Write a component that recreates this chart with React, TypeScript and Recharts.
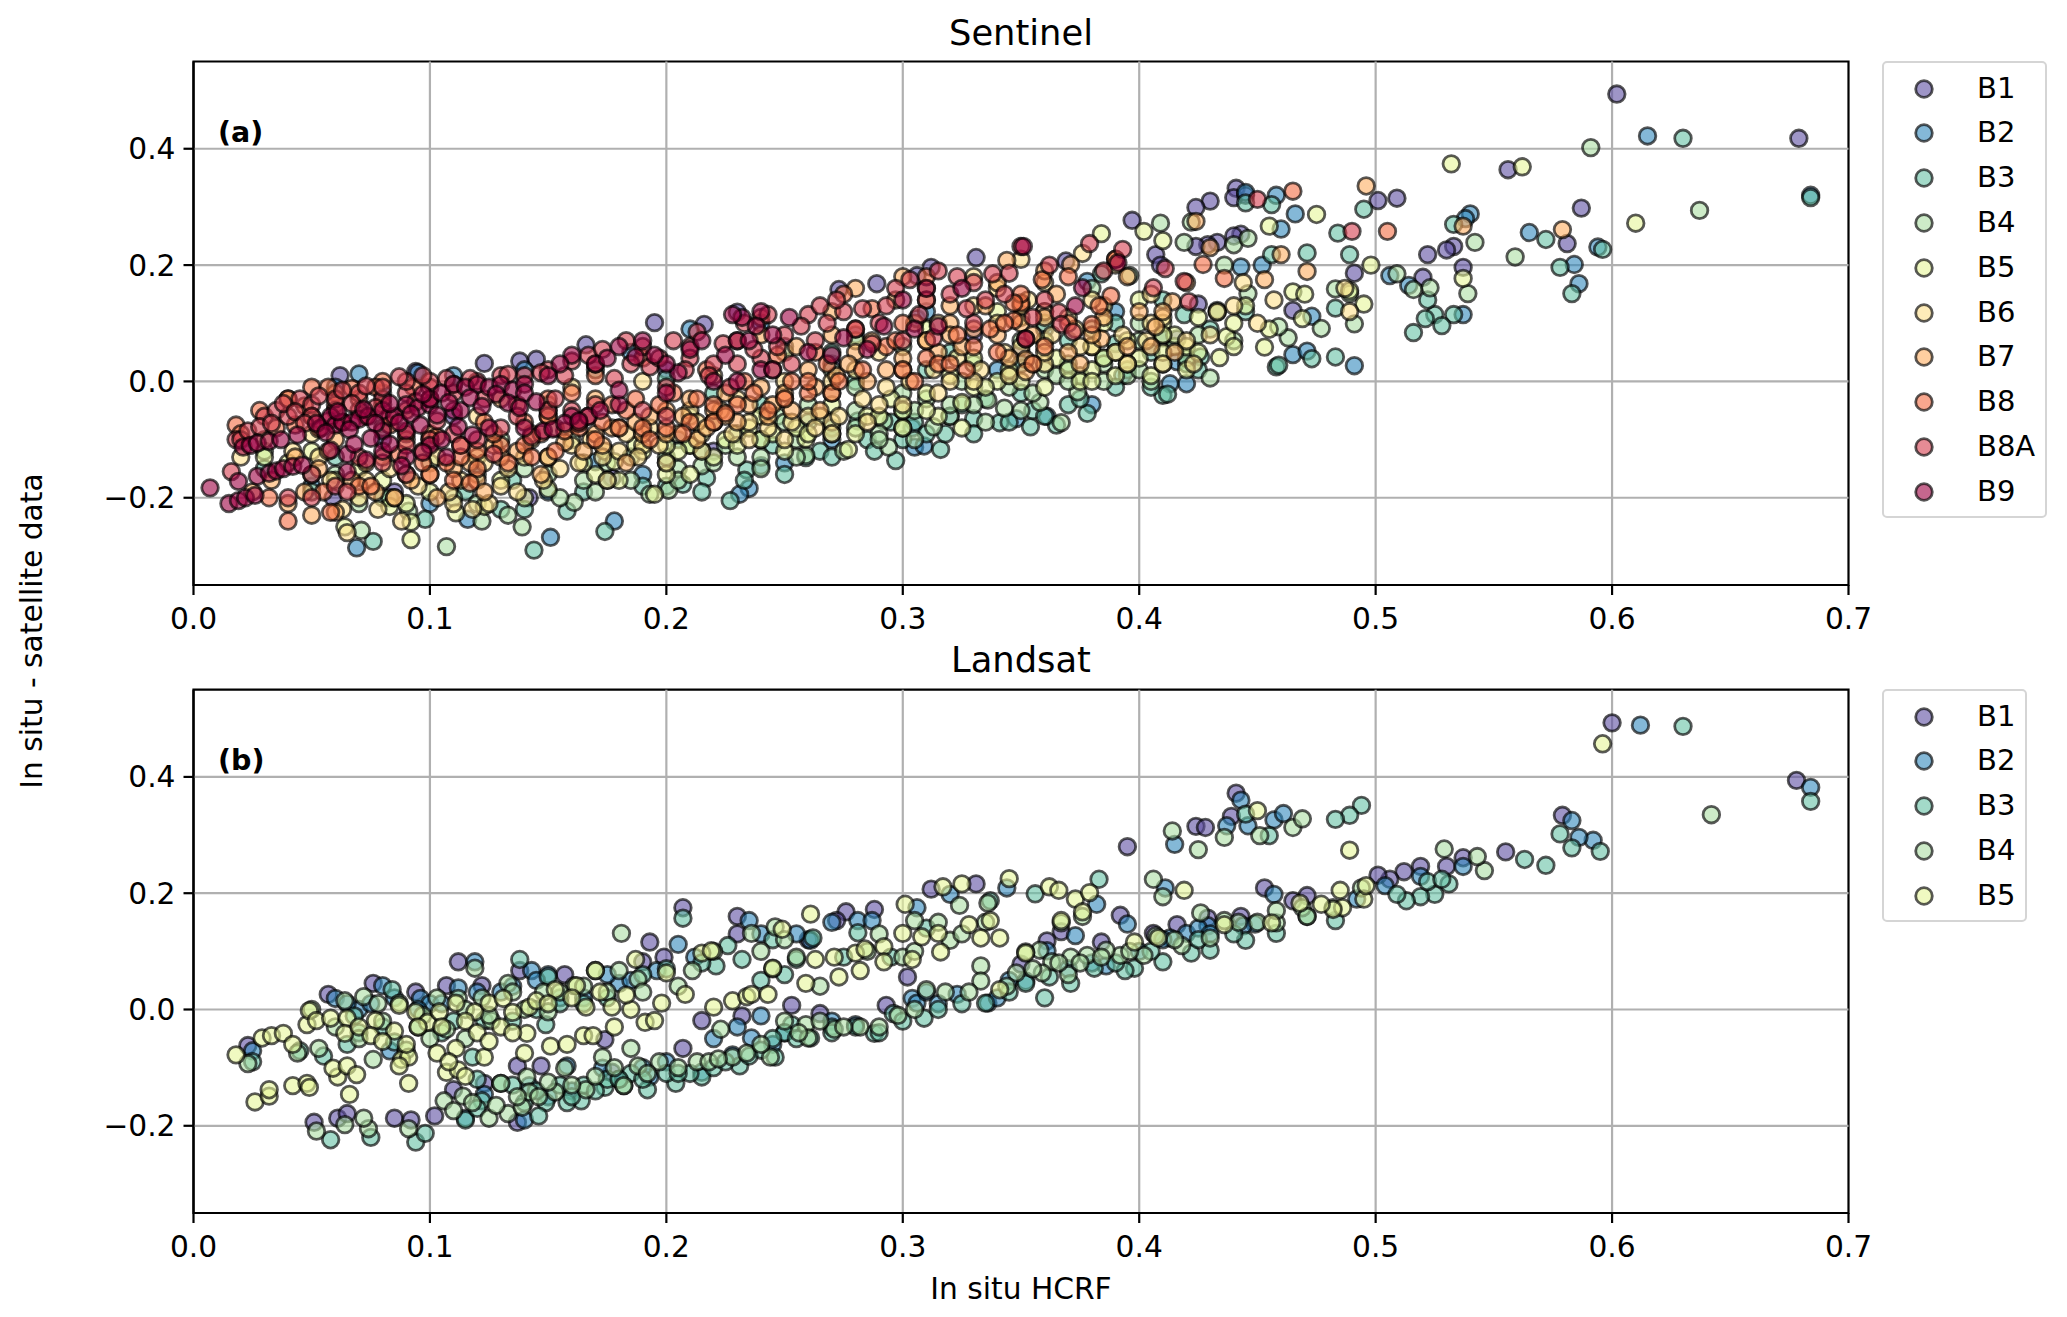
import { ScatterChart, Scatter, XAxis, YAxis, ReferenceLine, ReferenceArea } from "recharts";

type Pt = number[];

const sentinelBands = ["B1", "B2", "B3", "B4", "B5", "B6", "B7", "B8", "B8A", "B9"];
const landsatBands = ["B1", "B2", "B3", "B4", "B5"];
const bandColors = ["#5e4fa2", "#3288bd", "#66c2a5", "#abdda4", "#e6f598", "#fee08b", "#fdae61", "#f46d43", "#d53e4f", "#9e0142"];
const xTicks = [0, 0.1, 0.2, 0.3, 0.4, 0.5, 0.6, 0.7];
const yTicks = [-0.2, 0, 0.2, 0.4];

const sB1: Pt[] = [[.602,.494],[.679,.418],[.556,.364],[.587,.298],[.509,.315],[.501,.311],[.441,.332],[.44,.316],[.445,.32],[.43,.31],[.424,.299],[.397,.277],[.443,.253],[.44,.25],[.433,.239],[.429,.235],[.424,.232],[.407,.218],[.409,.2],[.533,.232],[.53,.226],[.522,.218],[.581,.237],[.537,.196],[.491,.186],[.52,.179],[.465,.122],[.425,.133],[.416,.073],[.41,.075],[.369,.207],[.331,.213],[.289,.168],[.312,.196],[.306,.182],[.273,.158],[.23,.119],[.216,.098],[.195,.101],[.166,.063],[.145,.038],[.138,.035],[.123,.031],[.094,.017],[.062,.01],[.22,-.12],[.177,-.166],[.142,-.2],[.059,-.2],[.085,-.19],[.36,.12],[.35,.05],[.33,.08],[.27,.03],[.25,.06],[.2,.02],[.15,-.05],[.11,-.06],[.08,-.1]];
const sB2: Pt[] = [[.615,.422],[.684,.32],[.565,.256],[.584,.201],[.586,.168],[.594,.231],[.54,.288],[.538,.28],[.458,.32],[.445,.325],[.466,.288],[.46,.262],[.443,.197],[.452,.2],[.506,.182],[.514,.165],[.491,.027],[.473,.112],[.465,.046],[.471,.052],[.537,.115],[.42,-.004],[.413,-.004],[.393,.01],[.38,-.04],[.361,-.06],[.348,-.064],[.416,.034],[.378,.172],[.305,-.113],[.309,-.111],[.304,-.08],[.235,-.184],[.231,-.194],[.24,-.145],[.178,-.24],[.151,-.268],[.069,-.286],[.116,-.237],[.17,-.138],[.306,.108],[.07,.013],[.095,.015],[.06,-.01],[.08,-.02],[.11,.01],[.14,.02],[.185,.05],[.21,.09],[.24,.1],[.28,.08],[.31,.12],[.34,.02],[.32,-.06],[.27,-.1],[.25,-.14],[.205,-.1],[.15,-.19],[.1,-.21],[.05,-.18],[.19,-.16],[.36,.09],[.39,.12]];
const sB3: Pt[] = [[.63,.418],[.684,.316],[.572,.244],[.596,.227],[.578,.196],[.583,.151],[.484,.255],[.495,.296],[.489,.218],[.471,.221],[.456,.218],[.445,.307],[.456,.304],[.533,.27],[.533,.115],[.525,.115],[.528,.096],[.521,.108],[.516,.084],[.522,.14],[.483,.042],[.483,.126],[.458,.025],[.459,.028],[.473,.039],[.426,.042],[.41,-.024],[.412,-.022],[.378,-.055],[.354,-.078],[.365,-.075],[.341,-.071],[.433,.122],[.419,.115],[.41,.08],[.39,.065],[.384,.185],[.316,-.117],[.297,-.136],[.33,-.064],[.259,-.131],[.227,-.205],[.217,-.166],[.207,-.177],[.174,-.258],[.158,-.223],[.144,-.29],[.076,-.275],[.098,-.237],[.234,-.152],[.281,-.068],[.19,-.18],[.13,-.22],[.24,-.1],[.3,-.05],[.35,-.02],[.37,.03],[.32,.05],[.27,.05],[.22,-.02],[.2,.005],[.15,-.04],[.1,-.1],[.06,-.13],[.03,-.15],[.12,-.16],[.11,-.005],[.17,.02],[.05,-.16],[.08,-.2],[.09,-.16],[.115,-.19],[.135,-.17],[.14,-.22],[.165,-.19],[.175,-.17],[.2,-.18],[.215,-.12],[.245,-.11],[.265,-.12],[.27,-.08],[.285,-.1],[.295,-.07],[.305,-.07],[.31,-.09],[.325,-.04],[.335,-.03],[.345,.01],[.355,-.05],[.37,-.04],[.385,.04],[.395,.02],[.405,.05],[.425,.02],[.2,-.14],[.215,-.19],[.233,-.17],[.25,-.16],[.27,-.13],[.288,-.12],[.3,-.1],[.318,-.09],[.33,-.09],[.345,-.07],[.36,-.06],[.375,-.03],[.39,-.01],[.405,-.01],[.42,.03],[.35,.03],[.37,.07],[.39,.1],[.41,.14],[.43,.09],[.445,.12],[.26,-.07],[.24,-.04],[.28,.0],[.31,.02]];
const sB4: Pt[] = [[.591,.402],[.637,.294],[.559,.214],[.542,.239],[.539,.151],[.523,.161],[.516,.158],[.509,.185],[.491,.099],[.489,.151],[.483,.159],[.477,.091],[.463,.075],[.446,.151],[.459,.094],[.43,.006],[.409,.272],[.422,.274],[.419,.239],[.44,.235],[.446,.246],[.433,.119],[.374,-.018],[.358,-.036],[.367,-.071],[.343,-.046],[.396,.182],[.38,.16],[.436,.2],[.107,-.284],[.071,-.256],[.139,-.25],[.133,-.23],[.193,-.194],[.201,-.187],[.185,-.17],[.215,-.145],[.259,-.127],[.247,-.06],[.294,-.113],[.292,-.068],[.313,-.078],[.336,-.032],[.161,-.208],[.091,-.223],[.122,-.24],[.06,-.16],[.03,-.12],[.1,-.14],[.13,-.1],[.16,-.1],[.18,-.08],[.22,-.07],[.26,-.04],[.28,-.01],[.31,-.03],[.33,.03],[.36,.02],[.39,.05],[.41,.03],[.4,.1],[.3,.06],[.27,.02],[.24,-.13],[.17,-.19],[.2,-.13],[.08,-.08],[.14,-.15],[.05,-.19],[.07,-.21],[.083,-.2],[.11,-.2],[.12,-.21],[.15,-.16],[.155,-.2],[.165,-.17],[.175,-.14],[.185,-.13],[.205,-.15],[.21,-.11],[.225,-.11],[.23,-.13],[.255,-.1],[.27,-.09],[.28,-.08],[.29,-.09],[.3,-.08],[.305,-.05],[.32,-.06],[.325,.0],[.345,-.01],[.355,-.02],[.365,.01],[.375,.01],[.385,.03],[.395,.01],[.405,.0],[.415,.06],[.425,.08],[.205,-.17],[.22,-.14],[.24,-.15],[.255,-.13],[.275,-.12],[.29,-.1],[.305,-.1],[.32,-.04],[.335,-.07],[.35,-.05],[.37,.0],[.385,.0],[.4,.02],[.42,.04],[.44,.07],[.38,.09],[.4,.07],[.35,.07],[.36,.1],[.28,-.05],[.25,-.07],[.23,-.09],[.21,-.06],[.33,-.04],[.3,-.02]];
const sB5: Pt[] = [[.532,.374],[.562,.369],[.61,.272],[.475,.287],[.455,.267],[.402,.258],[.384,.254],[.41,.242],[.498,.2],[.537,.177],[.495,.133],[.489,.156],[.465,.154],[.453,.059],[.469,.108],[.437,.077],[.434,.041],[.277,-.117],[.325,-.036],[.259,-.099],[.195,-.194],[.092,-.272],[.092,-.242],[.064,-.25],[.083,-.215],[.111,-.226],[.123,-.215],[.174,-.12],[.178,-.138],[.15,-.185],[.187,-.11],[.22,-.07],[.24,-.06],[.27,-.04],[.3,-.05],[.33,-.01],[.34,.0],[.36,-.01],[.38,.02],[.4,.04],[.42,.06],[.44,.1],[.41,.1],[.34,.12],[.31,.09],[.28,.07],[.25,.05],[.21,-.11],[.17,-.16],[.13,-.17],[.1,-.19],[.07,-.15],[.05,-.12],[.03,-.13],[.15,-.13],[.19,-.12],[.39,.01],[.38,.06],[.42,.02],[.04,-.14],[.06,-.17],[.08,-.17],[.09,-.21],[.12,-.13],[.14,-.2],[.165,-.14],[.18,-.17],[.2,-.16],[.205,-.12],[.215,-.09],[.225,-.1],[.235,-.08],[.245,-.09],[.255,-.08],[.265,-.06],[.285,-.06],[.295,-.03],[.31,-.02],[.315,-.06],[.32,.01],[.345,.02],[.355,.03],[.365,.04],[.375,.0],[.385,.04],[.395,.07],[.405,.01],[.415,.08],[.425,.11],[.445,.13],[.455,.09],[.47,.15],[.41,.05],[.21,-.16],[.23,-.11],[.25,-.12],[.26,-.09],[.28,-.09],[.3,-.08],[.31,-.05],[.325,-.08],[.335,-.01],[.35,.0],[.37,.02],[.38,.0],[.395,.03],[.41,.08],[.425,.05],[.44,.06],[.36,.07],[.385,.1],[.4,.14],[.35,.11],[.33,.04],[.29,-.06],[.27,-.02],[.24,-.1],[.22,-.13],[.2,-.11]];
const sB6: Pt[] = [[.487,.16],[.489,.12],[.457,.14],[.444,.17],[.45,.1],[.43,.08],[.41,.11],[.405,.15],[.39,.2],[.376,.22],[.35,.21],[.33,.18],[.31,.14],[.3,.02],[.34,.1],[.36,.03],[.38,.06],[.395,.03],[.41,.03],[.32,.0],[.29,-.04],[.27,-.07],[.25,-.03],[.26,-.06],[.235,-.07],[.21,-.05],[.2,-.14],[.19,-.11],[.18,-.12],[.175,-.17],[.16,-.11],[.155,-.15],[.14,-.13],[.13,-.18],[.125,-.21],[.11,-.21],[.085,-.2],[.095,-.18],[.1,-.16],[.065,-.26],[.07,-.2],[.05,-.09],[.03,-.1],[.02,-.13],[.09,-.1],[.12,-.06],[.16,-.01],[.19,.0],[.22,.01],[.245,.02],[.28,.02],[.31,.07],[.35,.06],[.37,.11],[.34,.16],[.385,.13],[.36,.17],[.042,-.12],[.053,-.13],[.058,-.17],[.063,-.22],[.073,-.17],[.078,-.22],[.083,-.15],[.088,-.24],[.103,-.13],[.108,-.19],[.113,-.17],[.118,-.22],[.123,-.14],[.133,-.15],[.137,-.19],[.143,-.1],[.148,-.17],[.153,-.08],[.163,-.14],[.168,-.1],[.173,-.13],[.183,-.09],[.188,-.13],[.193,-.08],[.197,-.11],[.205,-.09],[.213,-.07],[.223,-.05],[.228,-.09],[.243,-.08],[.253,-.07],[.263,-.08],[.273,-.06],[.283,-.03],[.293,-.01],[.303,.0],[.313,.02],[.323,.04],[.333,.02],[.343,.05],[.353,.14],[.363,.08],[.373,.09],[.393,.08],[.403,.07],[.423,.03],[.433,.12],[.215,-.12],[.235,-.1],[.25,-.1],[.27,-.09],[.285,-.07],[.3,-.04],[.315,-.02],[.33,.0],[.345,.01],[.36,.05],[.375,.06],[.39,.05],[.405,.1],[.42,.07],[.44,.13],[.38,.14],[.36,.12],[.33,.13],[.315,.1],[.29,.05],[.27,.0],[.25,.0],[.23,-.03]];
const sB7: Pt[] = [[.496,.336],[.424,.275],[.46,.218],[.471,.189],[.453,.175],[.537,.267],[.579,.261],[.414,.137],[.371,.201],[.407,.094],[.384,.073],[.352,.038],[.352,.017],[.39,.21],[.36,.19],[.344,.208],[.32,.1],[.04,-.21],[.05,-.23],[.06,-.225],[.085,-.2],[.025,-.19],[.11,-.15],[.12,-.17],[.13,-.13],[.15,-.13],[.165,-.12],[.15,-.06],[.17,-.03],[.19,-.09],[.2,-.09],[.2,-.05],[.21,-.03],[.22,-.05],[.23,-.07],[.24,-.01],[.25,-.02],[.26,.02],[.28,.05],[.28,.16],[.3,.18],[.31,.16],[.32,.13],[.33,.09],[.34,.17],[.35,.1],[.37,.05],[.395,.06],[.41,.12],[.42,.17],[.06,-.1],[.08,-.13],[.1,-.09],[.04,-.03],[.13,-.03],[.17,-.09],[.27,.12],[.24,.08],[.033,-.17],[.043,-.13],[.047,-.19],[.053,-.15],[.057,-.12],[.067,-.17],[.073,-.14],[.077,-.19],[.092,-.17],[.097,-.12],[.103,-.2],[.113,-.11],[.117,-.14],[.123,-.19],[.127,-.11],[.137,-.12],[.143,-.09],[.147,-.16],[.157,-.105],[.163,-.07],[.173,-.11],[.177,-.08],[.183,-.14],[.187,-.07],[.193,-.06],[.207,-.06],[.213,-.1],[.217,-.08],[.225,-.02],[.235,-.04],[.243,-.06],[.253,-.05],[.263,-.01],[.272,.01],[.277,.03],[.287,.07],[.293,.02],[.297,.14],[.305,.1],[.315,.05],[.325,.06],[.335,.13],[.345,.04],[.355,.08],[.365,.15],[.375,.03],[.385,.11],[.395,.18],[.405,.06],[.415,.05],[.43,.23],[.225,-.06],[.245,-.04],[.265,-.05],[.285,.0],[.3,.04],[.32,.08],[.34,.08],[.36,.11],[.38,.08],[.4,.12],[.35,.13],[.31,.07],[.27,.08],[.255,.06]];
const sB8: Pt[] = [[.465,.327],[.505,.258],[.427,.201],[.436,.177],[.388,.147],[.383,.13],[.38,.098],[.352,.073],[.35,.135],[.347,.105],[.359,.175],[.018,-.075],[.02,-.09],[.032,-.2],[.04,-.24],[.058,-.225],[.07,-.18],[.075,-.18],[.04,-.03],[.05,-.01],[.05,-.06],[.06,-.02],[.06,-.04],[.07,-.03],[.08,-.04],[.09,-.05],[.09,-.09],[.1,-.03],[.1,-.16],[.11,-.17],[.12,-.15],[.12,-.12],[.13,-.11],[.14,-.11],[.14,-.07],[.15,-.06],[.15,-.03],[.16,-.02],[.17,-.1],[.18,-.08],[.19,-.08],[.2,-.08],[.21,-.07],[.22,-.07],[.22,-.04],[.23,-.04],[.25,-.03],[.26,-.02],[.27,-.02],[.26,.0],[.3,.02],[.28,.09],[.3,.1],[.31,.04],[.315,.03],[.32,.03],[.33,.06],[.34,.05],[.36,.06],[.37,.1],[.35,.15],[.37,.18],[.39,.21],[.31,.18],[.275,.15],[.24,.11],[.23,.07],[.19,.04],[.17,.01],[.08,.0],[.055,-.19],[.028,-.05],[.035,-.08],[.043,-.075],[.047,-.042],[.053,-.082],[.057,-.01],[.063,-.07],[.067,-.012],[.073,-.06],[.077,-.01],[.083,-.075],[.087,-.125],[.093,-.01],[.097,-.14],[.103,-.095],[.107,-.14],[.113,-.13],[.117,-.175],[.123,-.07],[.127,-.09],[.133,-.14],[.137,-.04],[.143,-.13],[.147,-.09],[.153,-.12],[.157,-.085],[.163,-.08],[.167,-.06],[.173,-.07],[.177,-.04],[.183,-.05],[.187,-.03],[.193,-.1],[.197,-.04],[.203,-.02],[.207,-.09],[.213,-.03],[.217,.02],[.225,-.055],[.233,.0],[.237,-.02],[.243,-.05],[.247,.045],[.253,.0],[.263,.05],[.268,.03],[.273,.0],[.283,.02],[.287,.125],[.293,.06],[.297,.07],[.305,.0],[.323,.08],[.327,.02],[.337,.09],[.343,.1],[.355,.03],[.347,.135]];
const sB8A: Pt[] = [[.016,-.155],[.018,-.1],[.02,-.1],[.03,-.06],[.035,-.05],[.04,-.06],[.045,-.03],[.05,-.04],[.05,-.06],[.06,-.05],[.06,-.03],[.07,-.05],[.07,-.02],[.08,-.03],[.08,-.01],[.09,-.02],[.09,.0],[.1,-.01],[.1,.0],[.11,-.02],[.12,.0],[.13,.01],[.14,.01],[.15,.02],[.16,.035],[.17,.03],[.19,.06],[.185,.03],[.21,.06],[.21,.04],[.22,.03],[.23,.03],[.24,.04],[.25,.08],[.26,.115],[.265,.13],[.275,.12],[.28,.09],[.29,.1],[.3,.07],[.31,.14],[.315,.19],[.32,.15],[.33,.17],[.335,.14],[.33,.1],[.35,.232],[.36,.14],[.04,-.2],[.05,-.16],[.05,-.2],[.06,-.18],[.065,-.19],[.07,-.13],[.08,-.14],[.09,-.11],[.09,-.16],[.1,-.1],[.11,-.09],[.12,-.1],[.13,-.08],[.15,-.05],[.16,-.05],[.17,-.04],[.19,-.05],[.2,-.06],[.2,-.01],[.45,.313],[.49,.258],[.379,.237],[.393,.227],[.411,.194],[.406,.161],[.421,.137],[.419,.172],[.366,.119],[.367,.098],[.345,.186],[.023,-.085],[.028,-.078],[.033,-.072],[.038,-.038],[.043,-.052],[.047,-.072],[.053,-.025],[.057,-.068],[.063,-.015],[.067,-.038],[.073,-.008],[.077,-.045],[.083,-.062],[.087,.008],[.094,-.035],[.097,.01],[.103,-.068],[.107,.005],[.113,-.11],[.117,.005],[.123,-.03],[.127,-.125],[.133,.012],[.137,-.06],[.143,-.095],[.147,.015],[.153,-.03],[.157,.01],[.163,-.072],[.167,.045],[.173,.055],[.178,.005],[.183,.07],[.193,.025],[.197,.04],[.203,.07],[.208,.02],[.213,.085],[.218,.01],[.224,.065],[.227,-.01],[.233,.1],[.237,.055],[.243,.115],[.247,.06],[.253,.03],[.257,.095],[.263,.07],[.268,.1],[.272,.14],[.283,.125],[.287,.065],[.293,.13],[.297,.16],[.303,.175],[.307,.115],[.313,.075],[.323,.18],[.327,.125],[.338,.185],[.343,.15],[.355,.11],[.362,.2],[.385,.19],[.372,.085]];
const sB9: Pt[] = [[.007,-.183],[.015,-.21],[.019,-.205],[.022,-.2],[.026,-.196],[.019,-.172],[.021,-.113],[.024,-.11],[.027,-.106],[.032,-.103],[.037,-.1],[.044,-.092],[.027,-.163],[.032,-.158],[.035,-.154],[.038,-.15],[.042,-.146],[.046,-.144],[.054,-.08],[.058,-.06],[.06,-.075],[.063,-.07],[.067,-.07],[.07,-.065],[.074,-.06],[.08,-.085],[.08,-.05],[.085,-.06],[.09,-.04],[.09,-.085],[.095,-.045],[.1,-.04],[.1,-.03],[.105,-.02],[.11,-.005],[.11,-.05],[.115,-.01],[.12,-.005],[.125,-.01],[.13,-.005],[.135,-.015],[.14,-.005],[.14,-.02],[.145,-.035],[.065,-.125],[.065,-.155],[.08,-.12],[.09,-.13],[.1,-.11],[.105,-.1],[.113,-.05],[.125,-.08],[.14,-.08],[.148,-.085],[.16,-.06],[.167,-.06],[.172,-.05],[.18,-.04],[.18,-.015],[.2,-.02],[.205,.015],[.2,.03],[.18,.06],[.19,.07],[.16,.045],[.17,.03],[.22,.0],[.23,.0],[.24,.02],[.245,.02],[.23,.07],[.235,.07],[.24,.12],[.232,.11],[.245,.08],[.26,.05],[.27,.045],[.285,.055],[.305,.09],[.315,.095],[.31,.16],[.3,.14],[.391,.204],[.351,.232],[.376,.161],[.373,.13],[.352,.073],[.052,-.072],[.056,-.088],[.061,-.052],[.066,-.083],[.072,-.048],[.077,-.072],[.083,-.038],[.087,-.071],[.092,-.056],[.097,-.022],[.103,-.058],[.108,-.036],[.117,-.028],[.122,-.043],[.128,-.022],[.133,-.037],[.138,-.045],[.152,-.082],[.157,-.072],[.163,-.068],[.075,-.098],[.083,-.108],[.088,-.145],[.097,-.122],[.073,-.135],[.068,-.108],[.058,-.118],[.112,-.078],[.118,-.092],[.107,-.13],[.096,-.075],[.21,.055],[.215,.07],[.225,.045],[.195,.045],[.187,.042],[.175,.04],[.15,.01],[.155,.03],[.238,.095],[.228,.115],[.252,.11],[.275,.075],[.292,.095],[.325,.16]];

const lB1: Pt[] = [[.6,.493],[.678,.394],[.555,.271],[.579,.334],[.537,.261],[.53,.246],[.512,.237],[.519,.246],[.506,.224],[.501,.231],[.441,.372],[.439,.332],[.424,.315],[.428,.313],[.395,.28],[.392,.162],[.367,.134],[.361,.118],[.453,.209],[.471,.196],[.465,.187],[.443,.16],[.429,.157],[.416,.146],[.406,.131],[.384,.116],[.35,.078],[.331,.216],[.312,.207],[.288,.172],[.276,.168],[.272,.153],[.23,.16],[.207,.175],[.193,.116],[.19,.082],[.112,.082],[.138,.067],[.157,.06],[.076,.045],[.057,.026],[.094,.03],[.107,.041],[.122,.041],[.199,.09],[.302,.056],[.293,.007],[.215,-.019],[.207,-.067],[.232,-.011],[.253,.007],[.265,-.007],[.023,-.062],[.051,-.194],[.061,-.187],[.065,-.179],[.085,-.187],[.092,-.19],[.102,-.183],[.11,-.138],[.123,-.127],[.137,-.097],[.137,-.194],[.147,-.097],[.174,-.052],[.177,-.108],[.26,.12],[.23,.13]];
const lB2: Pt[] = [[.612,.489],[.684,.382],[.592,.291],[.583,.325],[.586,.296],[.415,.284],[.446,.316],[.443,.36],[.457,.326],[.461,.337],[.437,.316],[.411,.209],[.382,.181],[.395,.147],[.373,.127],[.457,.198],[.449,.147],[.444,.144],[.429,.144],[.42,.131],[.413,.123],[.504,.213],[.537,.246],[.519,.229],[.492,.19],[.344,.209],[.361,.101],[.352,.049],[.386,.075],[.235,.153],[.281,.153],[.287,.153],[.261,.119],[.205,.112],[.212,.09],[.306,.175],[.32,.198],[.304,.019],[.306,.011],[.336,.011],[.323,.026],[.196,.067],[.18,.045],[.15,.06],[.143,.067],[.119,.082],[.112,.037],[.08,.041],[.06,.019],[.096,.019],[.025,-.071],[.083,-.071],[.245,-.06],[.236,-.049],[.24,-.011],[.215,-.108],[.193,-.116],[.158,-.097],[.115,-.187],[.142,-.131],[.123,-.146],[.173,-.101],[.228,-.078],[.28,-.026],[.1,.01],[.13,.03],[.165,.02],[.07,.0],[.065,.01],[.075,.01],[.085,.02],[.095,.0],[.105,.01],[.12,.03],[.135,.04],[.145,.05],[.155,.02],[.175,.06],[.185,.05],[.14,-.19],[.15,-.15],[.16,-.14],[.18,-.12],[.19,-.1],[.2,-.09],[.22,-.05],[.23,-.03],[.25,-.04],[.27,-.02],[.31,.03],[.315,.01],[.34,.02],[.345,.05],[.37,.07],[.38,.08],[.4,.1],[.41,.12],[.425,.14],[.43,.13],[.24,.13],[.27,.15],[.255,.13]];
const lB3: Pt[] = [[.63,.487],[.684,.358],[.595,.272],[.572,.248],[.563,.258],[.578,.302],[.583,.278],[.494,.351],[.489,.334],[.483,.327],[.455,.299],[.445,.336],[.383,.224],[.356,.199],[.531,.216],[.525,.198],[.519,.194],[.513,.187],[.509,.198],[.522,.22],[.528,.224],[.483,.153],[.458,.131],[.445,.119],[.43,.102],[.422,.097],[.41,.082],[.398,.071],[.394,.067],[.381,.071],[.371,.045],[.352,.045],[.362,.056],[.471,.16],[.207,.157],[.281,.132],[.262,.123],[.255,.086],[.226,.11],[.221,.075],[.232,.086],[.138,.086],[.15,.056],[.084,.034],[.337,.187],[.309,-.015],[.296,-.007],[.335,.011],[.288,-.041],[.253,-.026],[.261,-.049],[.246,-.082],[.231,-.097],[.215,-.116],[.204,-.127],[.192,-.138],[.182,-.131],[.174,-.134],[.164,-.157],[.158,-.16],[.149,-.16],[.146,-.183],[.115,-.19],[.094,-.228],[.098,-.213],[.058,-.224],[.075,-.22],[.13,-.127],[.122,-.157],[.118,-.082],[.149,-.026],[.085,-.056],[.045,-.071],[.025,-.09],[.068,-.011],[.123,-.019],[.055,-.08],[.065,-.06],[.07,-.04],[.08,-.03],[.095,-.03],[.105,-.04],[.11,-.02],[.135,-.02],[.145,.0],[.155,.01],[.165,.01],[.175,.02],[.19,.06],[.2,.07],[.215,.08],[.24,.05],[.245,.12],[.25,.06],[.275,.09],[.295,.09],[.31,.14],[.12,-.17],[.135,-.13],[.14,-.16],[.155,-.13],[.165,-.13],[.175,-.12],[.185,-.11],[.2,-.11],[.21,-.11],[.22,-.1],[.24,-.07],[.25,-.04],[.27,-.03],[.28,-.03],[.3,-.02],[.315,.0],[.325,.01],[.345,.03],[.36,.02],[.39,.08],[.405,.1],[.425,.12],[.44,.13],[.12,-.12],[.145,-.14],[.16,-.15],[.17,-.14],[.18,-.12],[.19,-.12],[.205,-.11],[.225,-.09],[.235,-.08],[.245,-.05],[.255,-.05],[.27,-.04],[.29,-.04]];
const lB4: Pt[] = [[.642,.335],[.546,.239],[.543,.263],[.529,.276],[.414,.307],[.425,.275],[.436,.296],[.451,.299],[.465,.313],[.469,.328],[.376,.16],[.367,.149],[.41,.194],[.406,.224],[.458,.149],[.469,.175],[.471,.16],[.494,.209],[.418,.11],[.43,.123],[.426,.166],[.436,.153],[.407,.127],[.402,.093],[.392,.093],[.386,.102],[.378,.093],[.371,.09],[.358,.102],[.363,.082],[.352,.099],[.348,.063],[.359,.063],[.37,.06],[.482,.175],[.181,.131],[.246,.142],[.236,.131],[.119,.071],[.32,.119],[.305,.153],[.324,.179],[.336,.183],[.333,.075],[.333,.049],[.31,.034],[.259,-.026],[.26,-.049],[.271,-.034],[.282,-.03],[.244,-.082],[.228,-.082],[.223,-.034],[.213,-.09],[.197,-.09],[.188,-.097],[.185,-.067],[.173,-.082],[.157,-.101],[.141,-.116],[.142,-.142],[.153,-.142],[.166,-.138],[.182,-.131],[.114,-.149],[.106,-.157],[.11,-.174],[.125,-.187],[.133,-.179],[.139,-.168],[.13,-.127],[.074,-.205],[.072,-.187],[.052,-.209],[.064,-.198],[.091,-.205],[.076,-.086],[.053,-.067],[.044,-.075],[.023,-.093],[.064,.015],[.072,.022],[.087,.011],[.112,.019],[.133,.045],[.161,.041],[.155,.03],[.17,.067],[.18,.067],[.188,.052],[.211,.067],[.107,-.034],[.126,-.019],[.15,-.004],[.118,-.16],[.128,-.165],[.137,-.15],[.146,-.15],[.15,-.125],[.16,-.13],[.17,-.115],[.178,-.1],[.192,-.11],[.205,-.1],[.218,-.09],[.222,-.085],[.234,-.075],[.24,-.06],[.25,-.02],[.256,-.04],[.265,-.02],[.275,-.03],[.29,-.03],[.298,-.01],[.305,.0],[.318,.03],[.328,.03],[.344,.04],[.355,.07],[.366,.08],[.375,.08],[.384,.09],[.396,.1],[.415,.12],[.442,.15],[.45,.15],[.458,.17],[.078,.01],[.08,-.02],[.097,-.01],[.103,.02],[.115,.0],[.122,.02],[.135,.03],[.148,.03],[.05,.0],[.06,-.03],[.07,-.05],[.09,-.07],[.1,-.05],[.115,-.05],[.125,-.01],[.14,.0],[.165,.04],[.175,.03],[.19,.03],[.205,.04],[.22,.1],[.24,.1],[.25,.12],[.285,.1],[.3,.09],[.315,.15],[.325,.13],[.245,.07],[.255,.09],[.265,.04],[.29,.13],[.305,.1],[.335,.15]];
const lB5: Pt[] = [[.596,.457],[.489,.274],[.45,.342],[.345,.225],[.362,.211],[.366,.205],[.373,.19],[.379,.201],[.419,.205],[.376,.168],[.367,.153],[.341,.123],[.495,.19],[.496,.213],[.486,.175],[.482,.172],[.477,.181],[.485,.205],[.456,.149],[.468,.183],[.436,.146],[.408,.123],[.398,.116],[.341,.034],[.352,.097],[.018,-.078],[.026,-.159],[.032,-.149],[.032,-.138],[.042,-.131],[.048,-.127],[.049,-.134],[.066,-.146],[.091,-.127],[.061,-.116],[.059,-.101],[.065,-.097],[.069,-.112],[.088,-.086],[.091,-.082],[.087,-.097],[.107,-.108],[.112,-.104],[.123,-.082],[.111,-.067],[.103,-.075],[.029,-.049],[.033,-.045],[.038,-.041],[.042,-.06],[.048,-.026],[.049,-.002],[.052,-.019],[.058,-.015],[.065,-.015],[.064,-.041],[.077,-.019],[.085,-.037],[.087,.007],[.094,-.004],[.099,-.022],[.104,-.004],[.111,.011],[.119,-.004],[.125,.011],[.131,.019],[.13,-.03],[.142,.004],[.141,-.041],[.14,-.075],[.153,.034],[.162,.041],[.151,-.063],[.158,-.06],[.165,-.045],[.169,-.045],[.166,.004],[.17,.067],[.178,-.03],[.177,.004],[.185,.0],[.187,.086],[.191,-.022],[.195,-.019],[.198,.011],[.2,.063],[.208,.026],[.215,.097],[.219,.101],[.22,.004],[.228,.015],[.234,.022],[.236,.026],[.245,.071],[.243,.026],[.249,.138],[.259,.045],[.261,.164],[.263,.086],[.271,.09],[.273,.056],[.28,.097],[.282,.067],[.284,.104],[.292,.108],[.292,.082],[.3,.131],[.301,.181],[.304,.086],[.308,.125],[.315,.131],[.316,.099],[.317,.211],[.325,.216],[.328,.146],[.333,.123],[.337,.153],[.07,-.03],[.075,-.045],[.08,-.055],[.09,-.06],[.095,-.03],[.105,-.03],[.115,-.02],[.12,-.04],[.135,-.005],[.145,.015],[.15,.01],[.16,.02],[.172,.03],[.183,.025],[.125,-.055],[.115,-.115],[.108,-.09],[.135,-.04]];

const sentinelSeries = [sB1, sB2, sB3, sB4, sB5, sB6, sB7, sB8, sB8A, sB9];
const landsatSeries = [lB1, lB2, lB3, lB4, lB5];

const FONT = "'DejaVu Sans', sans-serif";
const fmtY = (v: number) => (v < 0 ? "\u2212" : "") + Math.abs(v).toFixed(1);
const tickStyle = { fontSize: 29.7, fontFamily: FONT, fill: "#000" };
const axisLine = { stroke: "#000", strokeWidth: 2.2 };

const Dot = (p: any) => (
  <circle cx={p.cx} cy={p.cy} r={8.3} fill={p.fill} fillOpacity={0.6} stroke="#000" strokeOpacity={0.65} strokeWidth={2.8} />
);

function Panel({ series, top, height, plotTop, plotBottom }: { series: Pt[][]; top: number; height: number; plotTop: number; plotBottom: number }) {
  return (
    <div style={{ position: "absolute", left: 0, top }}>
      <ScatterChart width={2067} height={height} margin={{ left: 93.5, right: 218.5, top: plotTop, bottom: plotBottom - 60 }}>
        <XAxis type="number" dataKey="x" domain={[0, 0.7]} ticks={xTicks} interval={0} height={60} tickFormatter={(v: number) => v.toFixed(1)} tick={tickStyle} tickSize={10} tickMargin={13} axisLine={axisLine} tickLine={axisLine} allowDataOverflow />
        <YAxis type="number" dataKey="y" domain={[-0.35, 0.55]} ticks={yTicks} interval={0} width={100} tickFormatter={fmtY} tick={tickStyle} tickSize={10} tickMargin={8} axisLine={axisLine} tickLine={axisLine} allowDataOverflow />
        {series.map((pts, i) => (
          <Scatter key={i} data={pts.map(([x, y]) => ({ x, y }))} fill={bandColors[i]} shape={Dot} isAnimationActive={false} />
        ))}
        {xTicks.slice(1, -1).map((v) => (
          <ReferenceLine key={"x" + v} x={v} stroke="#b0b0b0" strokeWidth={2.2} />
        ))}
        {yTicks.map((v) => (
          <ReferenceLine key={"y" + v} y={v} stroke="#b0b0b0" strokeWidth={2.2} />
        ))}
        <ReferenceArea x1={0} x2={0.7} y1={-0.35} y2={0.55} fill="none" stroke="#000" strokeWidth={2.2} />
      </ScatterChart>
    </div>
  );
}

function BandLegend({ bands, top, width }: { bands: string[]; top: number; width: number }) {
  return (
    <div style={{ position: "absolute", left: 1882, top, width: width + 1, height: bands.length * 44.8 + 9, boxSizing: "border-box", border: "2.2px solid #d5d5d5", borderRadius: 5, background: "#fff" }}>
      {bands.map((b, i) => (
        <div key={b} style={{ position: "absolute", left: 0, top: 2.5 + i * 44.8, height: 44.8, width: "100%", fontFamily: FONT, fontSize: 29, lineHeight: "44.8px", color: "#000" }}>
          <svg width={24} height={24} style={{ position: "absolute", left: 28, top: 11 }}>
            <circle cx={12} cy={12} r={8.3} fill={bandColors[i]} fillOpacity={0.6} stroke="#000" strokeOpacity={0.65} strokeWidth={2.8} />
          </svg>
          <span style={{ position: "absolute", left: 93 }}>{b}</span>
        </div>
      ))}
    </div>
  );
}

const textBase = { position: "absolute" as const, fontFamily: FONT, color: "#000", whiteSpace: "nowrap" as const, lineHeight: 1 };

export default function App() {
  return (
    <div style={{ position: "absolute", left: 0, top: 0, width: 2067, height: 1317, background: "#fff", overflow: "hidden" }}>
      <Panel series={sentinelSeries} top={0} height={660} plotTop={61.5} plotBottom={75} />
      <Panel series={landsatSeries} top={640} height={677} plotTop={49.7} plotBottom={104} />
      <div style={{ ...textBase, left: 1021, top: 33, fontSize: 35.3, transform: "translate(-50%,-50%)" }}>Sentinel</div>
      <div style={{ ...textBase, left: 1021, top: 660, fontSize: 35.3, transform: "translate(-50%,-50%)" }}>Landsat</div>
      <div style={{ ...textBase, left: 218, top: 133, fontSize: 28.5, fontWeight: 700, transform: "translateY(-50%)" }}>(a)</div>
      <div style={{ ...textBase, left: 218, top: 761, fontSize: 28.5, fontWeight: 700, transform: "translateY(-50%)" }}>(b)</div>
      <div style={{ ...textBase, left: 1021, top: 1289, fontSize: 29.7, transform: "translate(-50%,-50%)" }}>In situ HCRF</div>
      <div style={{ ...textBase, left: 32, top: 631, fontSize: 29.7, transform: "translate(-50%,-50%) rotate(-90deg)" }}>In situ - satellite data</div>
      <BandLegend bands={sentinelBands} top={61} width={164} />
      <BandLegend bands={landsatBands} top={689} width={144} />
    </div>
  );
}
